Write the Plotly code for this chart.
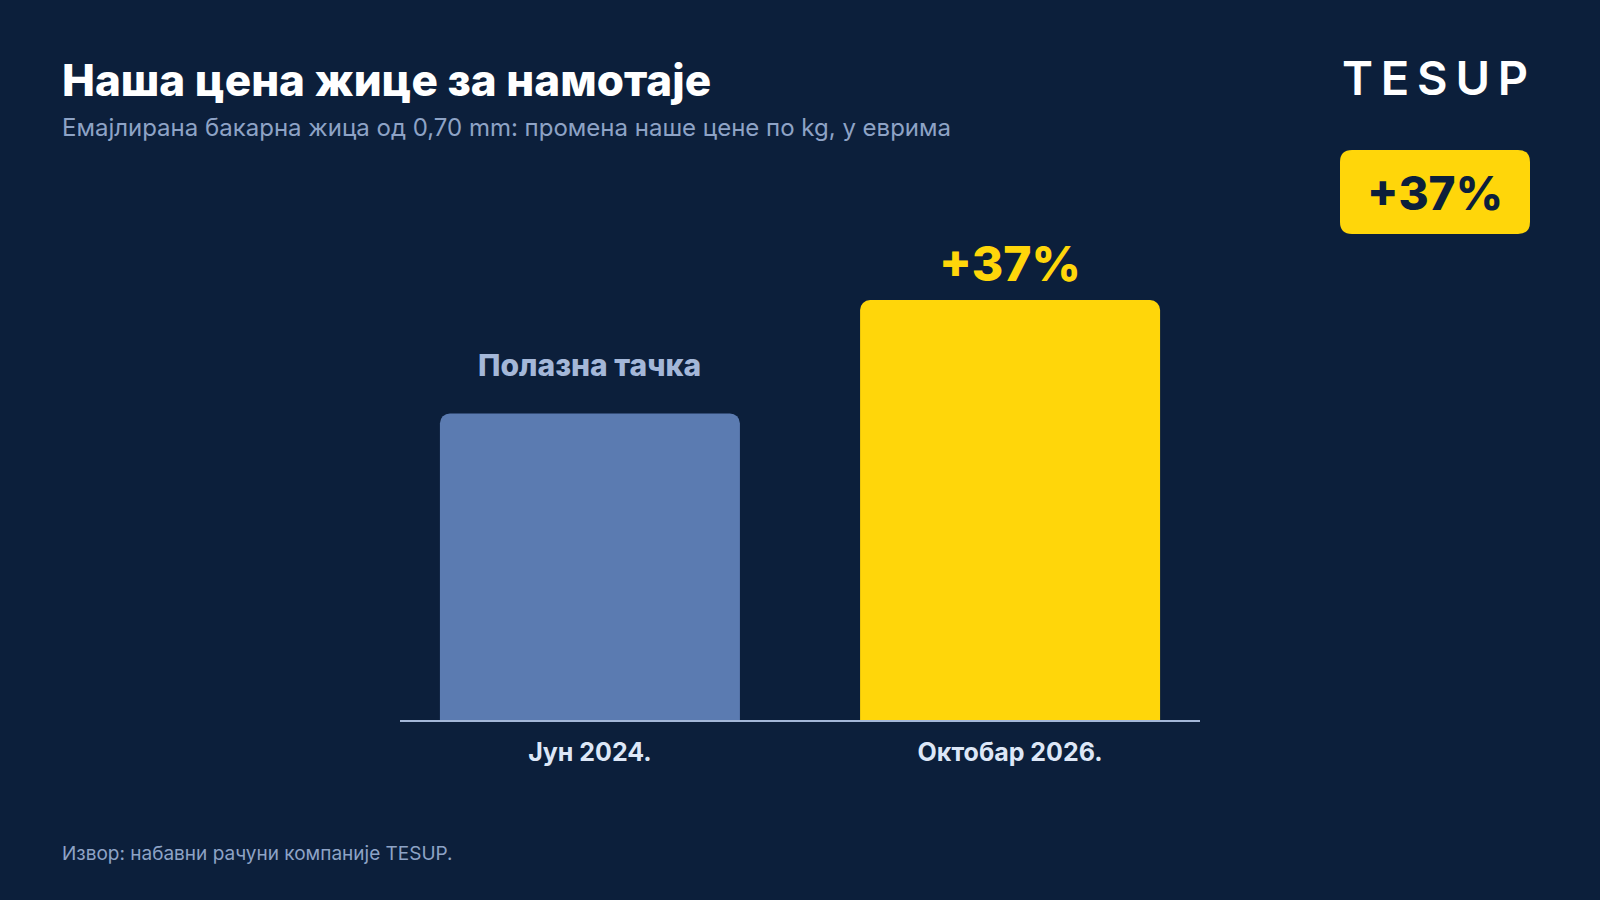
import plotly.graph_objects as go

# ---- data ----
categories = ["Јун 2024.", "Октобар 2026."]
values = [100, 137]
bar_colors = ["#5b7bb1", "#ffd60a"]
base_label = "Полазна тачка"
title_text = "Наша цена жице за намотаје"
subtitle_text = "Емајлирана бакарна жица од 0,70 mm: промена наше цене по kg, у еврима"
source_text = "Извор: набавни рачуни компаније TESUP."
logo_text = "TESUP"

pct = round((values[1] / values[0] - 1) * 100)
pct_label = f"+{pct}%"

# ---- layout geometry ----
W, H = 1600, 900
L, R, T, B = 400, 400, 200, 180
plot_w = W - L - R
plot_h = H - T - B


def px(x):
    return (x - L) / plot_w


def py(y):
    return (H - B - y) / plot_h


BG = "#0c1f3b"
FONT = "Inter"

fig = go.Figure()
fig.add_trace(go.Bar(
    x=categories, y=values, marker_color=bar_colors, marker_line_width=0,
    width=0.714, hoverinfo="skip", showlegend=False,
))

logo_spaced = "\u2009".join(logo_text)

annotations = [
    dict(text=title_text, x=px(60), y=py(80), xanchor="left", yanchor="middle",
         font=dict(family=FONT, size=44, color="#ffffff", weight=800)),
    dict(text=subtitle_text, x=px(60), y=py(127), xanchor="left", yanchor="middle",
         font=dict(family=FONT, size=24, color="#8ea3c6")),
    dict(text=source_text, x=px(60), y=py(853), xanchor="left", yanchor="middle",
         font=dict(family=FONT, size=19, color="#8ea3c6")),
    dict(text=logo_spaced, x=px(1435), y=py(78), xanchor="center", yanchor="middle",
         font=dict(family=FONT, size=47, color="#ffffff", weight=600)),
    dict(text=pct_label, x=px(1435), y=py(193), xanchor="center", yanchor="middle",
         font=dict(family=FONT, size=46, color=BG, weight=800)),
]
for a in annotations:
    a.update(xref="paper", yref="paper", showarrow=False)

# labels above bars, anchored to the data
annotations.append(dict(
    text=base_label, x=categories[0], y=values[0], xref="x", yref="y",
    yanchor="middle", yshift=48, showarrow=False,
    font=dict(family=FONT, size=30, color="#a4b7d8", weight=800)))
annotations.append(dict(
    text=pct_label, x=categories[1], y=values[1], xref="x", yref="y",
    yanchor="middle", yshift=37, showarrow=False,
    font=dict(family=FONT, size=48, color="#ffd60a", weight=800)))

# rounded badge rectangle
x0, x1, y0, y1, r = 1340, 1530, 150, 234, 12
rx, ry = r / plot_w, r / plot_h
X0, X1, Y0, Y1 = px(x0), px(x1), py(y1), py(y0)
path = (f"M {X0+rx},{Y0} L {X1-rx},{Y0} Q {X1},{Y0} {X1},{Y0+ry} "
        f"L {X1},{Y1-ry} Q {X1},{Y1} {X1-rx},{Y1} L {X0+rx},{Y1} "
        f"Q {X0},{Y1} {X0},{Y1-ry} L {X0},{Y0+ry} Q {X0},{Y0} {X0+rx},{Y0} Z")

fig.update_layout(
    width=W, height=H,
    margin=dict(l=L, r=R, t=T, b=B),
    paper_bgcolor=BG, plot_bgcolor=BG,
    barcornerradius=10,
    annotations=annotations,
    shapes=[dict(type="path", path=path, xref="paper", yref="paper",
                 fillcolor="#ffd60a", line_width=0, layer="below")],
    xaxis=dict(range=[-0.452, 1.452], showgrid=False, zeroline=False,
               showline=True, linecolor="#a4b7d8", linewidth=2,
               ticks="", ticklabelstandoff=9, fixedrange=True,
               tickfont=dict(family=FONT, size=25, color="#dde7f7", weight=700)),
    yaxis=dict(range=[0, values[1] * plot_h / 420], visible=False,
               showgrid=False, zeroline=False, fixedrange=True),
    showlegend=False,
)

fig.write_html("out.html", config={"displayModeBar": False})
